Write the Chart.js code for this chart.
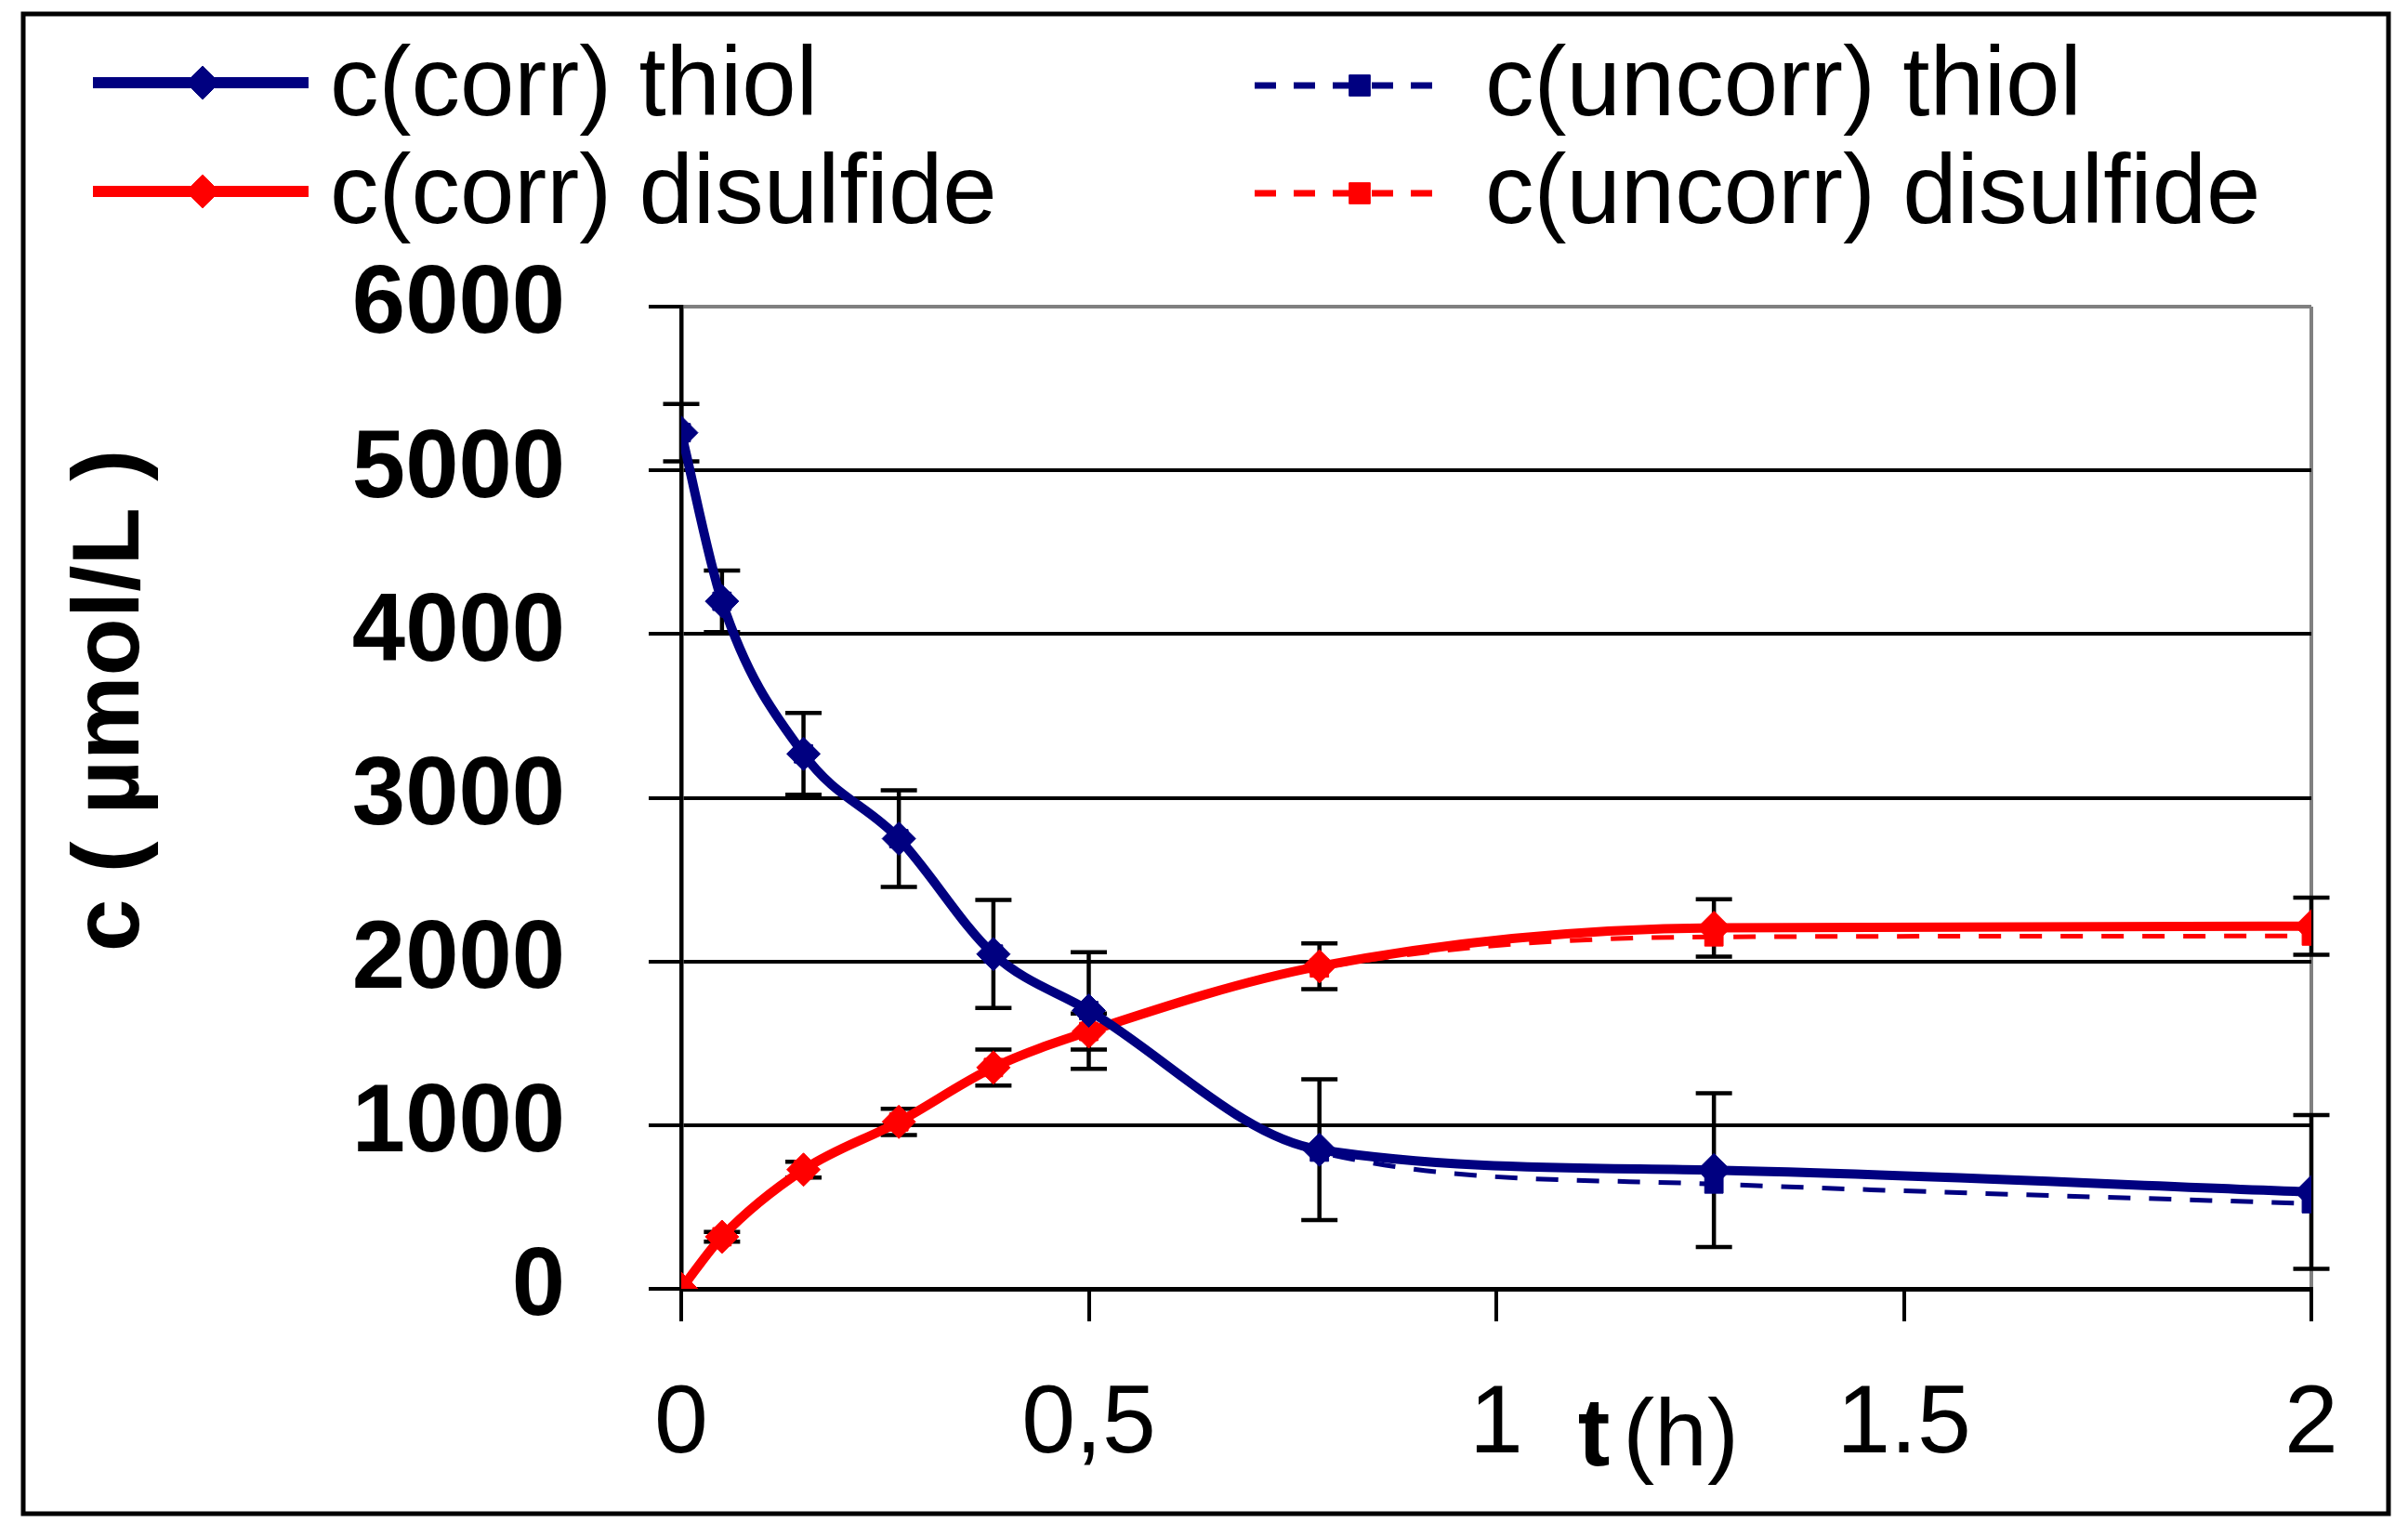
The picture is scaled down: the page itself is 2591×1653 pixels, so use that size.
<!DOCTYPE html>
<html>
<head>
<meta charset="utf-8">
<script src="https://cdn.jsdelivr.net/npm/chart.js@4.4.1/dist/chart.umd.min.js"></script>
<style>
html,body{margin:0;padding:0;background:#fff;overflow:hidden}
#wrap{position:relative;width:2591px;height:1653px}
</style>
</head>
<body>
<div id="wrap"><canvas id="c"></canvas></div>
<script>
// ---------- data ----------
const timeH = [0, 0.05, 0.15, 0.267, 0.383, 0.5, 0.783, 1.267, 2];
const thiolCorr = [5230, 4200, 3268, 2750, 2045, 1700, 850, 725, 592];
const thiolCorrErr = [175, 188, 250, 295, 330, 356, 430, 470, 470];
const disulfideCorr = [0, 318, 728, 1020, 1352, 1572, 1970, 2205, 2215];
const disulfideCorrErr = [0, 30, 48, 80, 110, 110, 140, 175, 175];
const thiolUncorr = [5230, 4200, 3268, 2750, 2045, 1700, 835, 640, 520];
const disulfideUncorr = [0, 318, 728, 1020, 1352, 1572, 1960, 2150, 2155];

const seriesNames = ['c(corr) thiol', 'c(corr) disulfide', 'c(uncorr) thiol', 'c(uncorr) disulfide'];
const xTickValues = [0, 0.5, 1, 1.5, 2];
const xTickLabels = ['0', '0,5', '1', '1.5', '2'];
const yTickValues = [0, 1000, 2000, 3000, 4000, 5000, 6000];
const yTickLabels = ['0', '1000', '2000', '3000', '4000', '5000', '6000'];
const xTitleParts = ['t', '(h)'];
const yTitle = 'c ( µmol/L )';

const NAVY = '#000080';
const RED = '#FF0000';
const FONT = '"Liberation Sans", Arial, Helvetica, sans-serif';

function pts(vals) { return timeH.map((t, i) => ({ x: t, y: vals[i] })); }

// ---------- plugins ----------
const errorBarPlugin = {
  id: 'errorBars',
  beforeDatasetsDraw(chart, args, opts) {
    const ctx = chart.ctx, xs = chart.scales.x, ys = chart.scales.y;
    ctx.save();
    ctx.strokeStyle = opts.color;
    ctx.lineWidth = opts.lineWidth;
    opts.sets.forEach(set => {
      const ds = chart.data.datasets[set.dataset];
      ds.data.forEach((p, i) => {
        const e = set.err[i];
        if (!e) return;
        const x = xs.getPixelForValue(p.x);
        const yt = ys.getPixelForValue(p.y + e);
        const yb = ys.getPixelForValue(p.y - e);
        ctx.beginPath();
        ctx.moveTo(x, yt); ctx.lineTo(x, yb);
        ctx.moveTo(x - opts.cap, yt); ctx.lineTo(x + opts.cap, yt);
        ctx.moveTo(x - opts.cap, yb); ctx.lineTo(x + opts.cap, yb);
        ctx.stroke();
      });
    });
    ctx.restore();
  }
};

const legendPlugin = {
  id: 'gridLegend',
  afterDraw(chart, args, opts) {
    const ctx = chart.ctx;
    ctx.save();
    opts.items.forEach(it => {
      const ds = chart.data.datasets[it.dataset];
      ctx.strokeStyle = ds.borderColor;
      ctx.fillStyle = ds.backgroundColor;
      ctx.lineWidth = it.lineWidth;
      ctx.setLineDash(it.dash || []);
      ctx.beginPath();
      ctx.moveTo(it.x0, it.y); ctx.lineTo(it.x1, it.y);
      ctx.stroke();
      ctx.setLineDash([]);
      ctx.lineWidth = 1;
      Chart.helpers.drawPoint(ctx, { pointStyle: ds.pointStyle, radius: it.markerRadius, rotation: 0, borderWidth: 1 }, it.mx, it.y);
      ctx.fillStyle = '#000';
      ctx.font = opts.font;
      ctx.textAlign = 'left';
      ctx.textBaseline = 'alphabetic';
      ctx.fillText(ds.label, it.tx, it.baseline);
    });
    ctx.restore();
  }
};

const titlePlugin = {
  id: 'axisTitles',
  afterDraw(chart, args, opts) {
    const ctx = chart.ctx, xs = chart.scales.x, ca = chart.chartArea;
    ctx.save();
    ctx.fillStyle = '#000';
    // y title
    ctx.translate(opts.yTitleX, opts.yTitleY);
    ctx.rotate(-Math.PI / 2);
    ctx.font = 'bold 102px ' + FONT;
    ctx.textAlign = 'center';
    ctx.textBaseline = 'alphabetic';
    ctx.fillText(yTitle, 0, 0);
    ctx.restore();
    ctx.save();
    // x title, placed in the tick-label row between 1 and 1.5
    let x = xs.getPixelForValue(opts.xTitleAt);
    const yb = ca.bottom + opts.xTitleDrop;
    ctx.fillStyle = '#000';
    ctx.textAlign = 'left';
    ctx.textBaseline = 'alphabetic';
    ctx.font = 'bold 104px ' + FONT;
    ctx.fillText(xTitleParts[0], x, yb);
    x += ctx.measureText(xTitleParts[0]).width + opts.xTitleGap;
    ctx.font = '102px ' + FONT;
    ctx.fillText(xTitleParts[1], x, yb);
    ctx.restore();
  }
};

const framePlugin = {
  id: 'outerFrame',
  afterDraw(chart, args, opts) {
    const ctx = chart.ctx;
    ctx.save();
    ctx.strokeStyle = '#000';
    ctx.lineWidth = opts.lineWidth;
    ctx.strokeRect(opts.left, opts.top, opts.right - opts.left, opts.bottom - opts.top);
    ctx.restore();
  }
};

// ---------- chart ----------
new Chart(document.getElementById('c'), {
  type: 'line',
  data: {
    datasets: [
      { label: seriesNames[0], data: pts(thiolCorr), borderColor: NAVY, backgroundColor: NAVY,
        borderWidth: 10, pointStyle: 'rectRot', pointRadius: 18, pointBorderWidth: 1,
        cubicInterpolationMode: 'monotone' },
      { label: seriesNames[1], data: pts(disulfideCorr), borderColor: RED, backgroundColor: RED,
        borderWidth: 10, pointStyle: 'rectRot', pointRadius: 18, pointBorderWidth: 1,
        cubicInterpolationMode: 'monotone' },
      { label: seriesNames[2], data: pts(thiolUncorr), borderColor: NAVY, backgroundColor: NAVY,
        borderWidth: 5, borderDash: [24, 20], pointStyle: 'rect', pointRadius: 14, pointBorderWidth: 1,
        cubicInterpolationMode: 'monotone' },
      { label: seriesNames[3], data: pts(disulfideUncorr), borderColor: RED, backgroundColor: RED,
        borderWidth: 5, borderDash: [24, 20], pointStyle: 'rect', pointRadius: 14, pointBorderWidth: 1,
        cubicInterpolationMode: 'monotone' }
    ]
  },
  options: {
    responsive: true,
    maintainAspectRatio: false,
    animation: false,
    layout: { padding: { top: 330, right: 104, bottom: 0, left: 0 } },
    scales: {
      x: {
        type: 'linear', min: 0, max: 2,
        afterFit(s) { s.height = 266; },
        ticks: {
          stepSize: 0.5, autoSkip: false, maxRotation: 0, minRotation: 0, padding: 50,
          color: '#000', font: { family: FONT, size: 104 },
          callback(v) {
            const k = xTickValues.findIndex(t => Math.abs(t - v) < 1e-9);
            return k >= 0 ? xTickLabels[k] : '';
          }
        },
        grid: {
          color: c => (c.tick && c.tick.value === 2) ? '#808080' : 'rgba(0,0,0,0)',
          lineWidth: 4, tickLength: 35, tickColor: '#000', tickWidth: 4, drawTicks: true
        },
        border: { display: true, color: '#000', width: 5 }
      },
      y: {
        type: 'linear', min: 0, max: 6000,
        afterFit(s) { s.width = 733; },
        ticks: {
          stepSize: 1000, padding: 90, color: '#000',
          font: { family: FONT, size: 103, weight: 'bold' },
          callback(v) {
            const k = yTickValues.indexOf(v);
            return k >= 0 ? yTickLabels[k] : '';
          }
        },
        grid: {
          color: c => (c.tick && c.tick.value === 6000) ? '#808080' : '#000',
          lineWidth: 4, tickLength: 35, tickColor: '#000', tickWidth: 4, drawTicks: true
        },
        border: { display: true, color: '#000', width: 4.5 }
      }
    },
    plugins: {
      legend: { display: false },
      tooltip: { enabled: false },
      errorBars: {
        color: '#000', lineWidth: 4.5, cap: 19.5,
        sets: [ { dataset: 0, err: thiolCorrErr }, { dataset: 1, err: disulfideCorrErr } ]
      },
      gridLegend: {
        font: '105px ' + FONT,
        items: [
          { dataset: 0, x0: 100, x1: 332, mx: 218, y: 89, baseline: 124, tx: 355, lineWidth: 12, markerRadius: 18 },
          { dataset: 1, x0: 100, x1: 332, mx: 218, y: 206, baseline: 240, tx: 355, lineWidth: 12, markerRadius: 18 },
          { dataset: 2, x0: 1350, x1: 1555, mx: 1463, y: 92, baseline: 124, tx: 1598, lineWidth: 7, dash: [23, 19], markerRadius: 16 },
          { dataset: 3, x0: 1350, x1: 1555, mx: 1463, y: 208, baseline: 240, tx: 1598, lineWidth: 7, dash: [23, 19], markerRadius: 16 }
        ]
      },
      axisTitles: { yTitleX: 149, yTitleY: 754, xTitleAt: 1.1, xTitleDrop: 190, xTitleGap: 14 },
      outerFrame: { left: 25, top: 15, right: 2570, bottom: 1629, lineWidth: 5 }
    }
  },
  plugins: [errorBarPlugin, legendPlugin, titlePlugin, framePlugin]
});
</script>
</body>
</html>
